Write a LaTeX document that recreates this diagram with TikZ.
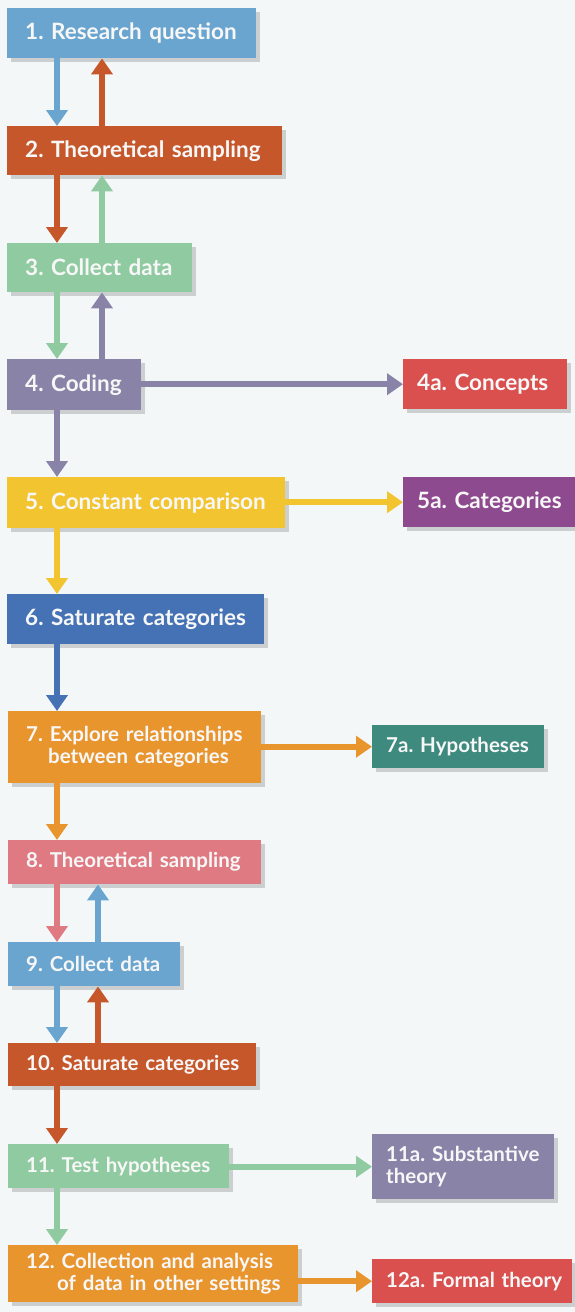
\documentclass[tikz,border=0pt]{standalone}
\usepackage{fontspec}
\setmainfont{Lato}
\frenchspacing
\usetikzlibrary{arrows.meta,shadows}
\definecolor{bg}{HTML}{F3F7F8}
\definecolor{cA}{HTML}{6AA5D0}
\definecolor{cB}{HTML}{C6572A}
\definecolor{cC}{HTML}{8FCAA0}
\definecolor{cD}{HTML}{8A83A8}
\definecolor{cE}{HTML}{D9504F}
\definecolor{cF}{HTML}{F2C530}
\definecolor{cG}{HTML}{8E4A8E}
\definecolor{cH}{HTML}{4472B4}
\definecolor{cI}{HTML}{E8952E}
\definecolor{cJ}{HTML}{3E8A7E}
\definecolor{cK}{HTML}{E07A82}
\definecolor{txt}{HTML}{F7F7F7}
\tikzset{
  box/.style={rectangle, anchor=north west, text=txt, align=left, inner ysep=2pt,
    drop shadow={shadow xshift=4pt, shadow yshift=-4pt, opacity=.16, fill=black}},
  lbox/.style={box, inner xsep=18pt},
  rbox/.style={box, inner xsep=14pt},
  fa/.style={font=\fontsize{22.5}{25}\selectfont\bfseries},
  fb/.style={font=\fontsize{20.5}{22}\selectfont\bfseries},
  arr/.style={draw=#1, line width=6pt, -{Triangle[width=21pt,length=16pt]}, shorten >=0pt},
}
\begin{document}
\begin{tikzpicture}[x=1pt,y=-1pt]
\fill[bg] (0,0) rectangle (575,1312);
\useasboundingbox (0,0) rectangle (575,1312);
\coordinate (xd) at (57,0);
\coordinate (xu) at (102,0);
\coordinate (xv) at (98,0);
% boxes
\node[lbox, fa, fill=cA, minimum height=50pt, text width=213pt] (b1) at (7,8) {\mbox{1. Research question}};
\node[lbox, fa, fill=cB, minimum height=49pt, text width=239pt] (b2) at (7,126) {\mbox{2. Theoretical sampling}};
\node[lbox, fa, fill=cC, minimum height=49pt, text width=149pt] (b3) at (7,243) {\mbox{3. Collect data}};
\node[lbox, fa, fill=cD, minimum height=51pt, text width=98pt] (b4) at (7,359) {\mbox{4. Coding}};
\node[rbox, fa, fill=cE, minimum height=50pt, text width=136pt] (b4a) at (403,359) {\mbox{4a. Concepts}};
\node[lbox, fa, fill=cF, minimum height=51pt, text width=242pt] (b5) at (7,477) {\mbox{5. Constant comparison}};
\node[rbox, fa, fill=cG, minimum height=50pt, text width=144pt] (b5a) at (403,477) {\mbox{5a. Categories}};
\node[lbox, fa, fill=cH, minimum height=50pt, text width=221pt] (b6) at (7,594) {\mbox{6. Saturate categories}};
\node[lbox, fb, fill=cI, minimum height=72pt, text width=217pt] (b7) at (8,711) {\mbox{7. Explore relationships}\\\mbox{\hspace*{22pt}between categories}};
\node[rbox, fb, fill=cJ, minimum height=43pt, text width=144pt] (b7a) at (372,725) {\mbox{7a. Hypotheses}};
\node[lbox, fb, fill=cK, minimum height=44pt, text width=217pt] (b8) at (8,840) {\mbox{8. Theoretical sampling}};
\node[lbox, fb, fill=cA, minimum height=44pt, text width=136pt] (b9) at (8,942) {\mbox{9. Collect data}};
\node[lbox, fb, fill=cB, minimum height=43pt, text width=212pt] (b10) at (8,1043) {\mbox{10. Saturate categories}};
\node[lbox, fb, fill=cC, minimum height=44pt, text width=185pt] (b11) at (8,1144) {\mbox{11. Test hypotheses}};
\node[rbox, fb, fill=cD, minimum height=65pt, text width=154pt] (b11a) at (372,1134) {\mbox{11a. Substantive}\\theory};
\node[lbox, fb, fill=cI, minimum height=57pt, text width=254pt] (b12) at (8,1245) {\mbox{12. Collection and analysis}\\\mbox{\hspace*{31pt}of data in other settings}};
\node[rbox, fb, fill=cE, minimum height=44pt, text width=172pt] (b12a) at (372,1259) {\mbox{12a. Formal theory}};
% vertical arrows
\draw[arr=cA] (b1.south -| xd) -- (b2.north -| xd);
\draw[arr=cB] (b2.north -| xu) -- (b1.south -| xu);
\draw[arr=cB] (b2.south -| xd) -- (b3.north -| xd);
\draw[arr=cC] (b3.north -| xu) -- (b2.south -| xu);
\draw[arr=cC] (b3.south -| xd) -- (b4.north -| xd);
\draw[arr=cD] (b4.north -| xu) -- (b3.south -| xu);
\draw[arr=cD] (b4.south -| xd) -- (b5.north -| xd);
\draw[arr=cF] (b5.south -| xd) -- (b6.north -| xd);
\draw[arr=cH] (b6.south -| xd) -- (b7.north -| xd);
\draw[arr=cI] (b7.south -| xd) -- (b8.north -| xd);
\draw[arr=cK] (b8.south -| xd) -- (b9.north -| xd);
\draw[arr=cA] (b9.north -| xv) -- (b8.south -| xv);
\draw[arr=cA] (b9.south -| xd) -- (b10.north -| xd);
\draw[arr=cB] (b10.north -| xv) -- (b9.south -| xv);
\draw[arr=cB] (b10.south -| xd) -- (b11.north -| xd);
\draw[arr=cC] (b11.south -| xd) -- (b12.north -| xd);
% horizontal arrows
\draw[arr=cD] (b4a.west -| b4.east) -- (b4a.west);
\draw[arr=cF] (b5a.west -| b5.east) -- (b5a.west);
\draw[arr=cI] (b7a.west -| b7.east) -- (b7a.west);
\draw[arr=cC] (b11a.west -| b11.east) -- (b11a.west);
\draw[arr=cI] (b12a.west -| b12.east) -- (b12a.west);
\end{tikzpicture}
\end{document}
